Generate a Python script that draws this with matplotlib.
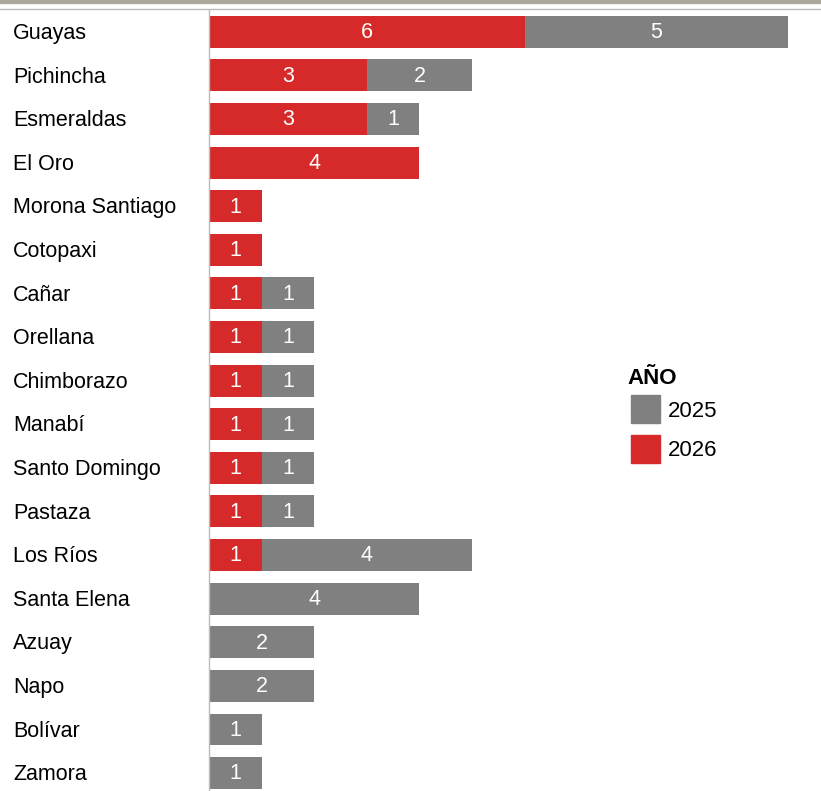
import matplotlib
matplotlib.use("Agg")
import matplotlib.pyplot as plt
from matplotlib.patches import Rectangle
from matplotlib.transforms import blended_transform_factory

provinces = ["Guayas", "Pichincha", "Esmeraldas", "El Oro", "Morona Santiago", "Cotopaxi",
             "Cañar", "Orellana", "Chimborazo", "Manabí", "Santo Domingo", "Pastaza",
             "Los Ríos", "Santa Elena", "Azuay", "Napo", "Bolívar", "Zamora"]
v2026 = [6, 3, 3, 4, 1, 1, 1, 1, 1, 1, 1, 1, 1, 0, 0, 0, 0, 0]
v2025 = [5, 2, 1, 0, 0, 0, 1, 1, 1, 1, 1, 1, 4, 4, 2, 2, 1, 1]
legend_title = "AÑO"
legend_years = ["2025", "2026"]

RED = "#D62A2A"
GRAY = "#808080"
FONT = "Liberation Sans"
plt.rcParams['font.family'] = [FONT, 'DejaVu Sans']

W, H = 821, 791
fig = plt.figure(figsize=(W / 100, H / 100), dpi=100)
ax_top = (H - 10) / H
ax = fig.add_axes([209 / W, 0, 1 - 209 / W, ax_top])

ys = list(range(len(provinces)))
ax.barh(ys, v2026, height=0.73, color=RED, left=0)
ax.barh(ys, v2025, height=0.73, color=GRAY, left=v2026)

fs = 15.5
for y, a, b in zip(ys, v2026, v2025):
    if a > 0:
        ax.text(a / 2, y + 0.02, str(a), ha="center", va="center", color="white", fontsize=fs)
    if b > 0:
        ax.text(a + b / 2, y + 0.02, str(b), ha="center", va="center", color="white", fontsize=fs)

ax.set_xlim(0, (W - 209) / 52.6)
ax.set_ylim(17 + (791 - 773) / 43.65, -0.5)
ax.set_xticks([])
ax.set_yticks([])
for s in ["top", "right", "bottom"]:
    ax.spines[s].set_visible(False)
ax.spines["left"].set_color("#BBBBBB")
ax.spines["left"].set_linewidth(1.0)

tr = blended_transform_factory(fig.transFigure, ax.transData)
for y, name in zip(ys, provinces):
    ax.text(13 / W, y + 0.04, name, transform=tr, ha="left", va="center", fontsize=fs,
            color="black", clip_on=False)

# top header lines
fig.patches.append(Rectangle((0, (H - 3) / H), 1, 3 / H, transform=fig.transFigure,
                             color="#ADA99A", zorder=5))
fig.add_artist(plt.Line2D([0, 1], [(H - 8.5) / H] * 2, transform=fig.transFigure,
                          color="#BBBBBB", lw=1.0))

# legend
lfs = 16
fig.text(627 / W, 1 - 379 / H, legend_title, fontsize=lfs, fontweight="bold", ha="left",
         va="center")
for i, (lab, col) in enumerate(zip(legend_years, [GRAY, RED])):
    top = 395 + i * 40
    fig.patches.append(Rectangle((631 / W, 1 - (top + 28) / H), 29 / W, 28 / H,
                                 transform=fig.transFigure, color=col))
    fig.text(668 / W, 1 - (top + 16) / H, lab, fontsize=lfs, ha="left", va="center")

fig.savefig("out.png", dpi=100)
